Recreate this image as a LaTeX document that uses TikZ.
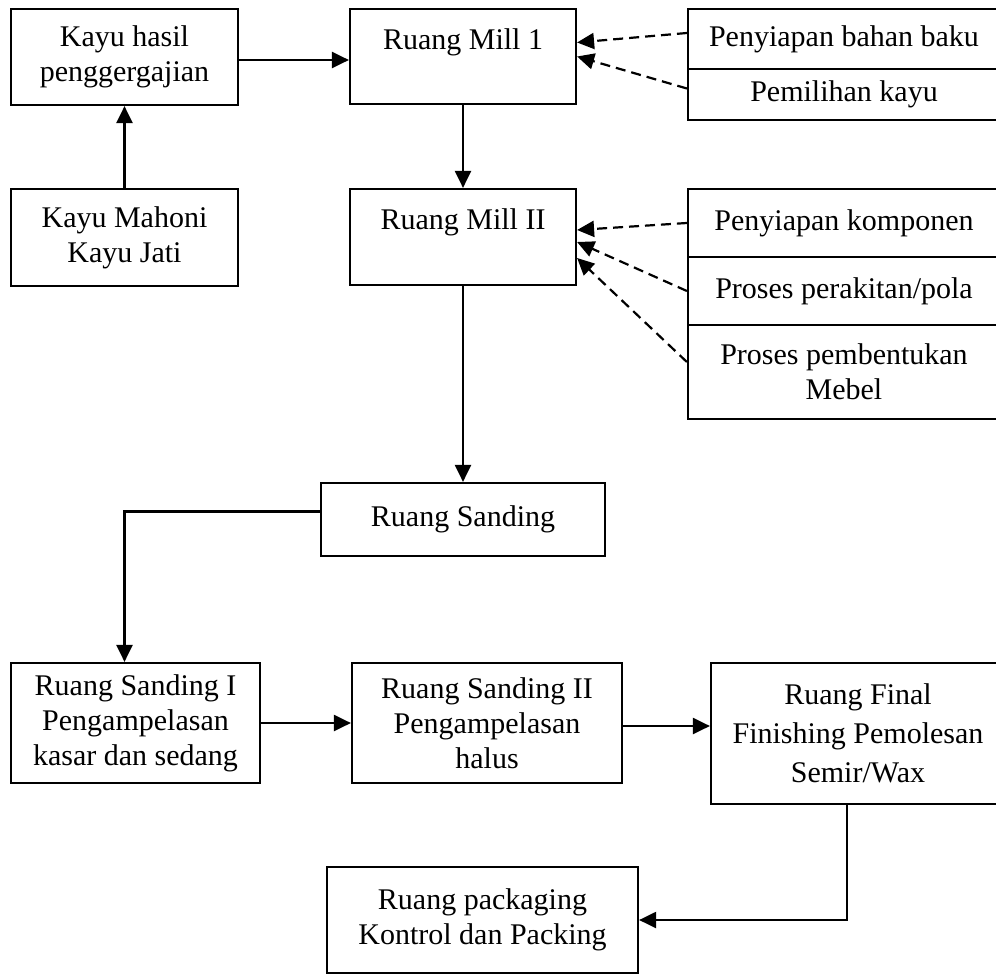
\documentclass[tikz,border=0pt]{standalone}
\usepackage{fontspec}
\setmainfont{Liberation Serif}
\usepackage{tikz}
\usetikzlibrary{arrows.meta}

\begin{document}
\begin{tikzpicture}[x=1pt,y=-1pt]
  \tikzstyle{room}=[draw, line width=2.2pt, align=center, inner sep=0pt, font=\fontsize{30}{35}\selectfont]
  \tikzstyle{flow}=[-{Triangle[length=17pt,width=16pt]}, line width=2.2pt]
  \tikzstyle{task}=[flow, dash pattern=on 10pt off 6pt]
  \useasboundingbox (0,0) rectangle (996,977);
  \clip (0,0) rectangle (996,977);
  % main rooms
  \node[room,minimum width=227pt,minimum height=96pt] (hasil) at (124.5,57) {Kayu hasil\\penggergajian};
  \node[room,minimum width=227pt,minimum height=97pt] (mahoni) at (124.5,237.5) {Kayu Mahoni\\Kayu Jati};
  \node[room,minimum width=226pt,minimum height=95pt] (milla) at (463,56.5) {Ruang Mill 1\\~};
  \node[room,minimum width=226pt,minimum height=96pt] (millb) at (463,237) {Ruang Mill II\\~};
  \node[room,minimum width=284pt,minimum height=73pt] (sanding) at (463,519.5) {Ruang Sanding};
  \node[room,minimum width=249pt,minimum height=120pt] (sanda) at (135.5,723) {Ruang Sanding I\\Pengampelasan\\kasar dan sedang};
  \node[room,minimum width=270pt,minimum height=120pt] (sandb) at (487,723) {Ruang Sanding II\\Pengampelasan\\halus};
  \node[room,minimum width=294pt,minimum height=141pt,font=\fontsize{30}{39}\selectfont] (final) at (858,733.5) {Ruang Final\\Finishing Pemolesan\\Semir/Wax};
  \node[room,minimum width=311pt,minimum height=106pt] (pack) at (482.5,920) {Ruang packaging\\Kontrol dan Packing};
  % activities on the right
  \foreach \nm/\yy/\hh/\txt in {pa/39/60/{Penyiapan bahan baku}, pb/94.5/51/{Pemilihan kayu}, pc/223/68/{Penyiapan komponen}, pd/291/68/{Proses perakitan/pola}, pe/372/94/{Proses pembentukan\\Mebel}} {
    \node[room,minimum width=312pt,minimum height=\hh pt] (\nm) at (844,\yy) {\txt};
  }
  \foreach \nm/\dy in {pa/14,pb/0} {
    \draw[task] ([yshift=6pt]\nm.west) -- ([yshift=\dy pt]milla.east);
  }
  \foreach \nm/\sy/\dy in {pc/0/7,pd/0/-5,pe/10/-21} {
    \draw[task] ([yshift=\sy pt]\nm.west) -- ([yshift=\dy pt]millb.east);
  }
  % flow
  \draw[flow] (mahoni) -- (hasil);
  \draw[flow] ([yshift=-3pt]hasil.east) -- ([yshift=-3pt]hasil.east -| milla.west);
  \draw[flow] (milla) -- (millb);
  \draw[flow] (millb) -- (sanding);
  \draw[flow] ([yshift=8pt]sanding.west) -| ([xshift=-11pt]sanda.north);
  \draw[flow] (sanda) -- (sandb);
  \draw[flow] ([yshift=-3pt]sandb.east) -- ([yshift=-3pt]sandb.east -| final.west);
  \draw[flow] ([xshift=-11pt]final.south) |- (pack.east);
\end{tikzpicture}
\end{document}
